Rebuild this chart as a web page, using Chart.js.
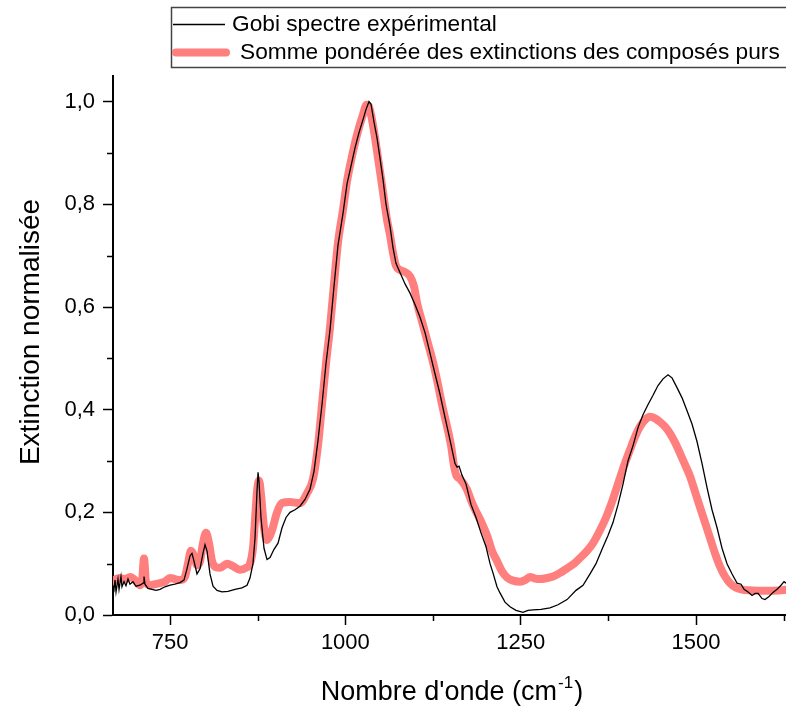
<!DOCTYPE html>
<html><head><meta charset="utf-8">
<script src="https://cdn.jsdelivr.net/npm/chart.js@4.4.1/dist/chart.umd.min.js"></script>
<style>html,body{margin:0;padding:0;background:#fff;}canvas{display:block}</style>
</head><body>
<canvas id="c" width="786" height="707"></canvas>
<script>
const seriesLabels = ["Gobi spectre expérimental", "Somme pondérée des extinctions des composés purs"];

const expWavenumber = [668.7,670.1,671.6,673,675.8,677.3,680.1,681.5,684.4,687.2,690.1,692.9,697.2,701.5,707.2,711.5,712.9,714.3,718.6,724.3,730,735.7,742.8,750,757.1,764.2,769.9,774.2,778.5,781.3,784.2,788.5,792.8,797,799.9,802.7,807,811.3,817,824.1,832.7,842.7,852.6,859.8,864,868.3,871.2,874,875.5,876.9,879.7,884,888.3,892.6,898.3,904,909.7,915.4,921.1,928.2,935.3,942.5,949.6,955.3,961,966.7,972.4,978.1,983.8,989.5,996.7,1002.4,1008.1,1013.8,1019.5,1025.2,1029.5,1033.7,1036.6,1040.9,1045.1,1049.4,1053.7,1058,1063.7,1068,1072.2,1077.9,1085.1,1092.2,1099.3,1106.5,1113.6,1120.7,1127.8,1135,1142.1,1149.3,1156.4,1159.2,1162.1,1166.4,1172.1,1179.2,1186.3,1193.4,1200.6,1206.3,1210.5,1216.2,1220.5,1227.6,1234.8,1243.3,1253.3,1260.4,1267.6,1279,1291.8,1303.2,1316.1,1328.9,1338.9,1348.9,1357.4,1366,1374.5,1381.6,1388.8,1395.9,1403,1410.2,1417.3,1424.4,1431.6,1438.7,1445.8,1453,1460.1,1465.8,1472.9,1480.1,1487.2,1494.3,1501.4,1508.6,1515.7,1522.8,1530,1537.1,1544.2,1551.4,1558.5,1564.2,1568.5,1574.2,1579.9,1584.2,1588.5,1594.2,1598.4,1604.1,1609.8,1615.5,1621.2,1625.5,1628.3];
const expExtinction = [0.055,0.05,0.068,0.045,0.07,0.05,0.075,0.055,0.065,0.057,0.07,0.06,0.065,0.056,0.058,0.062,0.075,0.06,0.052,0.05,0.048,0.05,0.055,0.058,0.06,0.063,0.068,0.09,0.115,0.12,0.105,0.08,0.09,0.12,0.137,0.125,0.08,0.056,0.048,0.045,0.046,0.05,0.053,0.058,0.072,0.1,0.15,0.24,0.278,0.26,0.19,0.13,0.108,0.112,0.128,0.14,0.17,0.19,0.2,0.205,0.212,0.225,0.245,0.28,0.34,0.41,0.49,0.555,0.64,0.72,0.783,0.84,0.875,0.91,0.94,0.965,0.985,1.0,0.995,0.96,0.93,0.89,0.848,0.8,0.757,0.715,0.685,0.667,0.645,0.627,0.605,0.58,0.55,0.51,0.47,0.43,0.385,0.34,0.295,0.288,0.29,0.272,0.255,0.215,0.19,0.16,0.133,0.1,0.082,0.055,0.043,0.025,0.016,0.009,0.005,0.009,0.01,0.011,0.014,0.02,0.03,0.048,0.058,0.08,0.1,0.128,0.155,0.18,0.215,0.255,0.3,0.33,0.365,0.39,0.41,0.428,0.447,0.46,0.468,0.462,0.443,0.423,0.398,0.372,0.338,0.295,0.248,0.205,0.17,0.13,0.1,0.08,0.062,0.06,0.05,0.045,0.038,0.042,0.042,0.032,0.03,0.036,0.044,0.05,0.058,0.065,0.062];

const fitWavenumber = [668.7,673,678.7,685.8,693,700.1,707.2,710.1,712.9,715.7,721.5,728.6,735.7,742.8,750,757.1,764.2,771.4,775.6,779.9,784.2,788.5,792.8,797,801.3,805.6,809.9,815.6,821.3,831.3,839.8,849.8,858.4,864,868.3,871.2,874,876.9,879.7,884,888.3,892.6,896.9,902.6,909.7,921.1,935.3,945.3,953.9,961,966.7,972.4,978.1,983.8,989.5,996.7,1002.4,1008.1,1013.8,1019.5,1025.2,1030.2,1033.7,1038,1042.3,1046.6,1050.9,1055.1,1059.4,1063.7,1068,1072.2,1077.9,1085.1,1092.2,1097.9,1102.2,1109.3,1116.4,1123.6,1130.7,1137.8,1145,1150.7,1155,1158.8,1163.5,1173.2,1180.1,1187.7,1194.9,1202,1209.1,1216.2,1223.4,1230.5,1239.1,1249.1,1256.2,1263.1,1270.5,1277.6,1287.6,1296.1,1306.1,1316.1,1326.1,1334.6,1344.6,1353.2,1363.1,1371.7,1378.8,1387.4,1395.9,1405.9,1413,1420.1,1427.3,1434.4,1441.5,1448.7,1455.8,1462.9,1470.1,1477.2,1484.3,1491.5,1498.6,1505.7,1512.8,1520,1527.1,1534.3,1541.4,1548.5,1557.1,1567.1,1577.1,1591.4,1605.6,1619.9,1628.3];
const fitExtinction = [0.065,0.07,0.072,0.07,0.074,0.068,0.058,0.065,0.11,0.065,0.058,0.06,0.062,0.065,0.072,0.07,0.068,0.075,0.1,0.125,0.115,0.097,0.105,0.14,0.16,0.14,0.105,0.093,0.092,0.1,0.095,0.088,0.092,0.1,0.13,0.185,0.24,0.262,0.235,0.17,0.146,0.155,0.172,0.2,0.218,0.22,0.218,0.237,0.265,0.33,0.41,0.49,0.56,0.645,0.725,0.79,0.845,0.885,0.92,0.95,0.975,0.994,0.99,0.965,0.93,0.89,0.85,0.81,0.77,0.74,0.705,0.68,0.672,0.668,0.66,0.64,0.608,0.572,0.536,0.5,0.458,0.41,0.367,0.33,0.29,0.27,0.265,0.245,0.22,0.198,0.178,0.155,0.125,0.105,0.085,0.073,0.067,0.065,0.068,0.074,0.071,0.07,0.072,0.075,0.082,0.091,0.1,0.111,0.125,0.14,0.165,0.19,0.215,0.25,0.285,0.322,0.347,0.367,0.38,0.386,0.383,0.376,0.367,0.354,0.336,0.315,0.293,0.27,0.24,0.21,0.18,0.15,0.12,0.094,0.075,0.062,0.053,0.049,0.048,0.047,0.047,0.048,0.049];

const xMajorTicks = [750, 1000, 1250, 1500];
const xMinorTicks = [875, 1125, 1375, 1625];
const yMajorTicks = [0, 0.2, 0.4, 0.6, 0.8, 1.0];
const yMinorTicks = [0.1, 0.3, 0.5, 0.7, 0.9];
const xTitleParts = ["Nombre d'onde (cm", "-1", ")"];
const yTitleText = "Extinction normalisée";

const FONT = "'Liberation Sans', Arial, sans-serif";
const RED = '#ff7f7f';

const toPts = (xs, ys) => xs.map((x, i) => ({x: x, y: ys[i]}));

const minorTicksPlugin = {
  id: 'minorTicks',
  afterDraw(chart) {
    const c = chart.ctx, xs = chart.scales.x, ys = chart.scales.y;
    c.save();
    c.strokeStyle = '#000'; c.lineWidth = 1.5;
    xMinorTicks.forEach(v => {
      const p = Math.round(xs.getPixelForValue(v)) + 0.5;
      c.beginPath(); c.moveTo(p, xs.top); c.lineTo(p, xs.top + 6); c.stroke();
    });
    yMinorTicks.forEach(v => {
      const p = Math.round(ys.getPixelForValue(v)) + 0.5;
      c.beginPath(); c.moveTo(ys.right, p); c.lineTo(ys.right - 6, p); c.stroke();
    });
    c.restore();
  }
};

const titlesPlugin = {
  id: 'axisTitles',
  afterDraw(chart) {
    const c = chart.ctx;
    c.save();
    c.fillStyle = '#000';
    const big = '27px ' + FONT, small = '17px ' + FONT;
    c.font = big; const w1 = c.measureText(xTitleParts[0]).width, w3 = c.measureText(xTitleParts[2]).width;
    c.font = small; const w2 = c.measureText(xTitleParts[1]).width;
    const total = w1 + w2 + w3;
    const x0 = 317 + (268 - total) / 2;
    const yb = 700;
    c.textBaseline = 'alphabetic'; c.textAlign = 'left';
    c.font = big; c.fillText(xTitleParts[0], x0, yb);
    c.font = small; c.fillText(xTitleParts[1], x0 + w1 + 1, yb - 12);
    c.font = big; c.fillText(xTitleParts[2], x0 + w1 + w2 + 2, yb);
    c.translate(31, 332);
    c.rotate(-Math.PI / 2);
    c.font = '28px ' + FONT; c.textAlign = 'center'; c.textBaseline = 'middle';
    c.fillText(yTitleText, 0, 0);
    c.restore();
  }
};

const legendPlugin = {
  id: 'boxLegend',
  afterDraw(chart) {
    const c = chart.ctx;
    const ds = chart.data.datasets;
    c.save();
    c.strokeStyle = '#444'; c.lineWidth = 1.5;
    c.strokeRect(171.5, 7.5, 640, 60);
    const rows = [{y: 24, x1: 173, x2: 225, tx: 232}, {y: 52, x1: 176, x2: 226, tx: 240}];
    ds.forEach((d, i) => {
      const r = rows[i];
      c.strokeStyle = d.borderColor; c.lineWidth = d.borderWidth; c.lineCap = i === 1 ? 'round' : 'butt';
      c.beginPath(); c.moveTo(r.x1, r.y + 0.5); c.lineTo(r.x2, r.y + 0.5); c.stroke();
      c.fillStyle = '#000'; c.font = '22.7px ' + FONT; c.textBaseline = 'middle'; c.textAlign = 'left';
      c.fillText(d.label, r.tx, r.y + 1);
    });
    c.restore();
  }
};

new Chart(document.getElementById('c').getContext('2d'), {
  type: 'line',
  data: {
    datasets: [
      {label: seriesLabels[0], data: toPts(expWavenumber, expExtinction), borderColor: '#000', borderWidth: 1.3, pointRadius: 0, tension: 0, order: 0},
      {label: seriesLabels[1], data: toPts(fitWavenumber, fitExtinction), borderColor: RED, borderWidth: 8, pointRadius: 0, cubicInterpolationMode: 'monotone', borderCapStyle: 'round', borderJoinStyle: 'round', order: 1}
    ]
  },
  options: {
    responsive: false, animation: false, devicePixelRatio: 1,
    layout: {padding: {top: 76, right: 0, left: 0, bottom: 0}},
    plugins: {legend: {display: false}, tooltip: {enabled: false}},
    scales: {
      x: {
        type: 'linear', min: 668.7, max: 1628.3,
        afterFit(s) { s.height = 92; },
        afterBuildTicks(s) { s.ticks = xMajorTicks.map(v => ({value: v})); },
        grid: {drawOnChartArea: false, drawTicks: true, tickLength: 10, tickColor: '#000', tickWidth: 1.5},
        border: {display: true, color: '#000', width: 2},
        ticks: {color: '#000', font: {family: FONT, size: 22}, padding: 5, maxRotation: 0, autoSkip: false, callback: v => String(v)}
      },
      y: {
        type: 'linear', min: 0, max: 1.05,
        afterFit(s) { s.width = 113; },
        afterBuildTicks(s) { s.ticks = yMajorTicks.map(v => ({value: v})); },
        grid: {drawOnChartArea: false, drawTicks: true, tickLength: 10, tickColor: '#000', tickWidth: 1.5},
        border: {display: true, color: '#000', width: 2},
        ticks: {color: '#000', font: {family: FONT, size: 22}, padding: 8, autoSkip: false, callback: v => v.toFixed(1).replace('.', ',')}
      }
    }
  },
  plugins: [minorTicksPlugin, titlesPlugin, legendPlugin]
});
</script>
</body></html>
